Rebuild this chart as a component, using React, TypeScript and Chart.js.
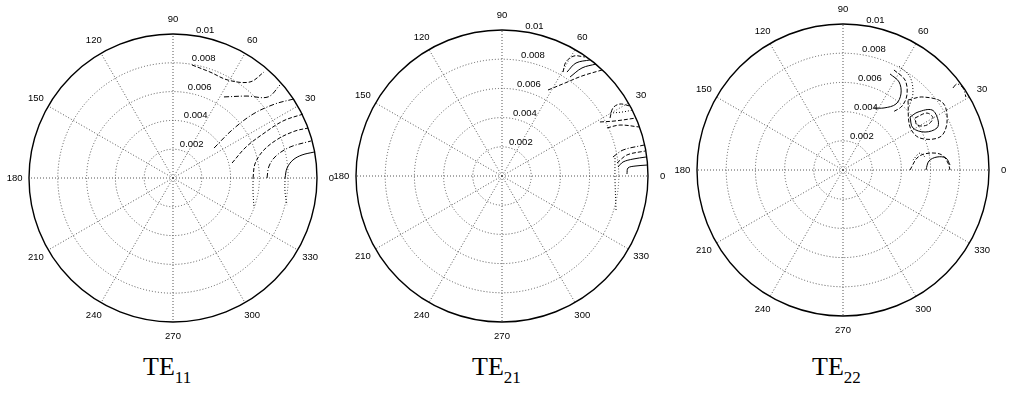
import React, { useEffect, useRef } from "react";
import { Chart, registerables } from "chart.js";

Chart.register(...registerables);

// ---------- axis ticks ----------
const angleTicks = [0, 30, 60, 90, 120, 150, 180, 210, 240, 270, 300, 330];
const angleLabels = ["0", "30", "60", "90", "120", "150", "180", "210", "240", "270", "300", "330"];
const radialTicks = [0.002, 0.004, 0.006, 0.008, 0.01];
const radialLabels = ["0.002", "0.004", "0.006", "0.008", "0.01"];
const rMax = 0.01;

// ---------- titles ----------
const titleMain = ["TE", "TE", "TE"];
const titleSub = ["11", "21", "22"];

// ---------- TE11 contour lines (x, y field coordinates) ----------
const te11A = [[0.00778, 0], [0.00792, 0.00069], [0.00833, 0.00125], [0.00896, 0.0016], [0.00979, 0.0018]];
const te11Ab = [[0.00778, 0], [0.00778, -0.00097], [0.00792, -0.00188]];
const te11B = [[0.00653, 0], [0.00667, 0.00083], [0.00715, 0.00153], [0.00813, 0.00215], [0.00958, 0.00257]];
const te11C = [[0.00556, 0], [0.00569, 0.00097], [0.00625, 0.00188], [0.00729, 0.00271], [0.00847, 0.00326], [0.00938, 0.00347]];
const te11Cb = [[0.00556, 0], [0.00556, -0.00104], [0.00563, -0.00208]];
const te11D = [[0.0041, 0.00104], [0.00507, 0.00215], [0.00625, 0.00306], [0.00764, 0.00396], [0.00903, 0.00444]];
const te11E = [[0.00285, 0.00208], [0.0041, 0.00333], [0.00556, 0.00444], [0.00708, 0.00514], [0.0084, 0.00549]];
const te11F = [[0.00354, 0.00563], [0.00514, 0.00569], [0.0066, 0.00563], [0.00743, 0.00646]];
const te11G = [[0.00132, 0.00785], [0.00257, 0.00736], [0.00382, 0.0068], [0.00535, 0.00667], [0.00632, 0.00736]];

// ---------- TE21 contour lines ----------
const te21A = [[0.00418, 0.00712], [0.00438, 0.00781], [0.00493, 0.00822], [0.00568, 0.00815]];
const te21B = [[0.00445, 0.00712], [0.00507, 0.00774], [0.00603, 0.00795]];
const te21C = [[0.00466, 0.00678], [0.00548, 0.0074], [0.00644, 0.00767]];
const te21D = [[0.00315, 0.00589], [0.00432, 0.00637], [0.00548, 0.00685], [0.00685, 0.00726]];
const te21E = [[0.0074, 0.00397], [0.0076, 0.00466], [0.00808, 0.00493], [0.00877, 0.00479]];
const te21F = [[0.00671, 0.0037], [0.00774, 0.00377], [0.00918, 0.00397]];
const te21G = [[0.00856, 0.00014], [0.00863, 0.00055], [0.00911, 0.00068], [0.00993, 0.00075]];
const te21H = [[0.00795, 0.00062], [0.00829, 0.00096], [0.00897, 0.00116], [0.00986, 0.0013]];
const te21I = [[0.00788, 0.00089], [0.00856, 0.00144], [0.00979, 0.00171]];
const te21J = [[0.0076, 0.0013], [0.00829, 0.00178], [0.00973, 0.00212]];
const te21K = [[0.00719, 0.00329], [0.00808, 0.00349], [0.00938, 0.00336]];
const te21L = [[0.0074, 0.00431], [0.00822, 0.00438], [0.00897, 0.00452]];
const te21M = [[0.00774, 0.00123], [0.00774, -0.00027], [0.00781, -0.00233]];

// ---------- TE22 contour lines ----------
const te22A = [[0.00322, 0.00658], [0.00384, 0.00603], [0.00397, 0.00521], [0.00363, 0.00452], [0.00281, 0.00425], [0.00212, 0.00425]];
const te22B = [[0.00349, 0.00685], [0.00425, 0.00616], [0.00438, 0.00514], [0.00404, 0.00438], [0.00342, 0.00397]];
const te22C = [[0.00384, 0.00712], [0.00459, 0.00637], [0.00479, 0.00527], [0.00452, 0.00431]];
const te22D = [[0.00459, 0.00363], [0.00514, 0.00397], [0.0061, 0.00411], [0.00651, 0.00342], [0.00644, 0.00288], [0.00562, 0.0026], [0.00479, 0.00288], [0.00459, 0.00363]];
const te22E = [[0.00493, 0.00356], [0.00575, 0.0039], [0.00616, 0.00356], [0.00575, 0.00308], [0.00507, 0.00308], [0.00493, 0.00356]];
const te22F = [[0.00445, 0.00479], [0.00548, 0.005], [0.00685, 0.00459], [0.00712, 0.00322], [0.00664, 0.00226], [0.00527, 0.00219], [0.00459, 0.00295], [0.00445, 0.00479]];
const te22G = [[0.00459, 0], [0.00514, 0.00089], [0.00596, 0.00116], [0.00678, 0.00103], [0.00719, 0.00048], [0.00733, 0]];
const te22H = [[0.00568, 0], [0.00589, 0.00062], [0.00644, 0.00089], [0.00705, 0.00082], [0.00733, 0.00034]];
const te22I = [[0.00479, 0.00068], [0.00527, 0.00116], [0.00568, 0.00082]];
const te22J = [[0.00753, 0.00562], [0.00781, 0.00589], [0.00822, 0.00562], [0.00842, 0.005]];

// ---------- line styles ----------
const lineStyles: Record<string, { dash: number[]; width: number }> = {
  solid: { dash: [], width: 1 },
  dashed: { dash: [4, 2], width: 1 },
  dashdot: { dash: [5, 2, 1, 2], width: 1 },
  dotted: { dash: [1, 2], width: 1 },
};

const panels = [
  {
    cx: 173, cy: 178, R: 144,
    contours: [
      { pts: te11A, style: "solid" }, { pts: te11Ab, style: "dotted" },
      { pts: te11B, style: "dashdot" }, { pts: te11C, style: "dashed" },
      { pts: te11Cb, style: "dotted" }, { pts: te11D, style: "dashed" },
      { pts: te11E, style: "dashdot" }, { pts: te11F, style: "dashdot" },
      { pts: te11G, style: "dashed" },
    ],
  },
  {
    cx: 502, cy: 176, R: 146,
    contours: [
      { pts: te21A, style: "dashed" }, { pts: te21B, style: "solid" },
      { pts: te21C, style: "solid" }, { pts: te21D, style: "dashed" },
      { pts: te21E, style: "dashed" }, { pts: te21F, style: "dashed" },
      { pts: te21G, style: "solid" }, { pts: te21H, style: "solid" },
      { pts: te21I, style: "dashed" }, { pts: te21J, style: "dashdot" },
      { pts: te21K, style: "dashed" }, { pts: te21L, style: "dotted" },
      { pts: te21M, style: "dotted" },
    ],
  },
  {
    cx: 843, cy: 170, R: 146,
    contours: [
      { pts: te22A, style: "solid" }, { pts: te22B, style: "dashed" },
      { pts: te22C, style: "dotted" }, { pts: te22D, style: "solid" },
      { pts: te22E, style: "dashed" }, { pts: te22F, style: "dashed" },
      { pts: te22G, style: "dashed" }, { pts: te22H, style: "solid" },
      { pts: te22I, style: "dotted" }, { pts: te22J, style: "dashdot" },
    ],
  },
];

const titleLeft = [143, 472, 812];
const HALF = 170;

const polarGrid = {
  id: "polarGrid",
  beforeDatasetsDraw(chart: any) {
    const { ctx, scales } = chart;
    const xs = scales.x;
    const ys = scales.y;
    const cx = xs.getPixelForValue(0);
    const cy = ys.getPixelForValue(0);
    const rp = (r: number) => xs.getPixelForValue(r) - cx;
    const R = rp(rMax);
    ctx.save();
    ctx.strokeStyle = "#555";
    ctx.lineWidth = 1;
    ctx.setLineDash([1, 2]);
    radialTicks.slice(0, -1).forEach((r) => {
      ctx.beginPath();
      ctx.arc(cx, cy, rp(r), 0, Math.PI * 2);
      ctx.stroke();
    });
    angleTicks.forEach((a) => {
      const t = (a * Math.PI) / 180;
      ctx.beginPath();
      ctx.moveTo(cx, cy);
      ctx.lineTo(cx + R * Math.cos(t), cy - R * Math.sin(t));
      ctx.stroke();
    });
    ctx.setLineDash([]);
    ctx.strokeStyle = "#000";
    ctx.lineWidth = 1.4;
    ctx.beginPath();
    ctx.arc(cx, cy, R, 0, Math.PI * 2);
    ctx.stroke();

    ctx.fillStyle = "#000";
    ctx.font = "9.5px 'Liberation Sans', Arial, sans-serif";
    ctx.textAlign = "center";
    ctx.textBaseline = "middle";
    angleTicks.forEach((a, i) => {
      const t = (a * Math.PI) / 180;
      ctx.fillText(angleLabels[i], cx + 1.1 * R * Math.cos(t), cy - 1.1 * R * Math.sin(t));
    });
    ctx.textAlign = "left";
    ctx.textBaseline = "bottom";
    const t82 = (82 * Math.PI) / 180;
    radialTicks.forEach((r, i) => {
      const rr = rp(r + 0.002 / 20);
      ctx.fillText(" " + radialLabels[i], cx + rr * Math.cos(t82), cy - rr * Math.sin(t82) + 1);
    });
    ctx.restore();
  },
};

function PolarPanel({ panel }: { panel: any }) {
  const ref = useRef<HTMLCanvasElement | null>(null);
  useEffect(() => {
    if (!ref.current) return;
    const S = (rMax * HALF) / panel.R;
    const chart = new Chart(ref.current, {
      type: "scatter",
      data: {
        datasets: panel.contours.map((c: any) => ({
          data: c.pts.map((p: number[]) => ({ x: p[0], y: p[1] })),
          showLine: true,
          pointRadius: 0,
          borderColor: "#000",
          borderWidth: lineStyles[c.style].width,
          borderDash: lineStyles[c.style].dash,
          tension: 0.35,
          fill: false,
        })),
      },
      options: {
        animation: false,
        responsive: false,
        maintainAspectRatio: false,
        events: [],
        layout: { padding: 0 },
        plugins: { legend: { display: false }, tooltip: { enabled: false } },
        scales: {
          x: { type: "linear", min: -S, max: S, display: false },
          y: { type: "linear", min: -S, max: S, display: false },
        },
      },
      plugins: [polarGrid],
    } as any);
    return () => chart.destroy();
  }, [panel]);
  return (
    <canvas
      ref={ref}
      width={HALF * 2}
      height={HALF * 2}
      style={{
        position: "absolute",
        left: panel.cx - HALF,
        top: panel.cy - HALF,
        width: HALF * 2,
        height: HALF * 2,
      }}
    />
  );
}

export default function App() {
  return (
    <div
      style={{
        position: "absolute",
        left: 0,
        top: 0,
        width: 1015,
        height: 398,
        background: "#fff",
        overflow: "hidden",
      }}
    >
      {panels.map((p, i) => (
        <PolarPanel key={i} panel={p} />
      ))}
      {titleMain.map((t, i) => (
        <div
          key={"t" + i}
          style={{
            position: "absolute",
            left: titleLeft[i],
            top: 352,
            fontFamily: "'Liberation Serif', 'Times New Roman', serif",
            fontSize: 26,
            lineHeight: "30px",
            color: "#000",
            whiteSpace: "nowrap",
          }}
        >
          {t}
          <span style={{ fontSize: 17, position: "relative", top: 8 }}>{titleSub[i]}</span>
        </div>
      ))}
    </div>
  );
}
